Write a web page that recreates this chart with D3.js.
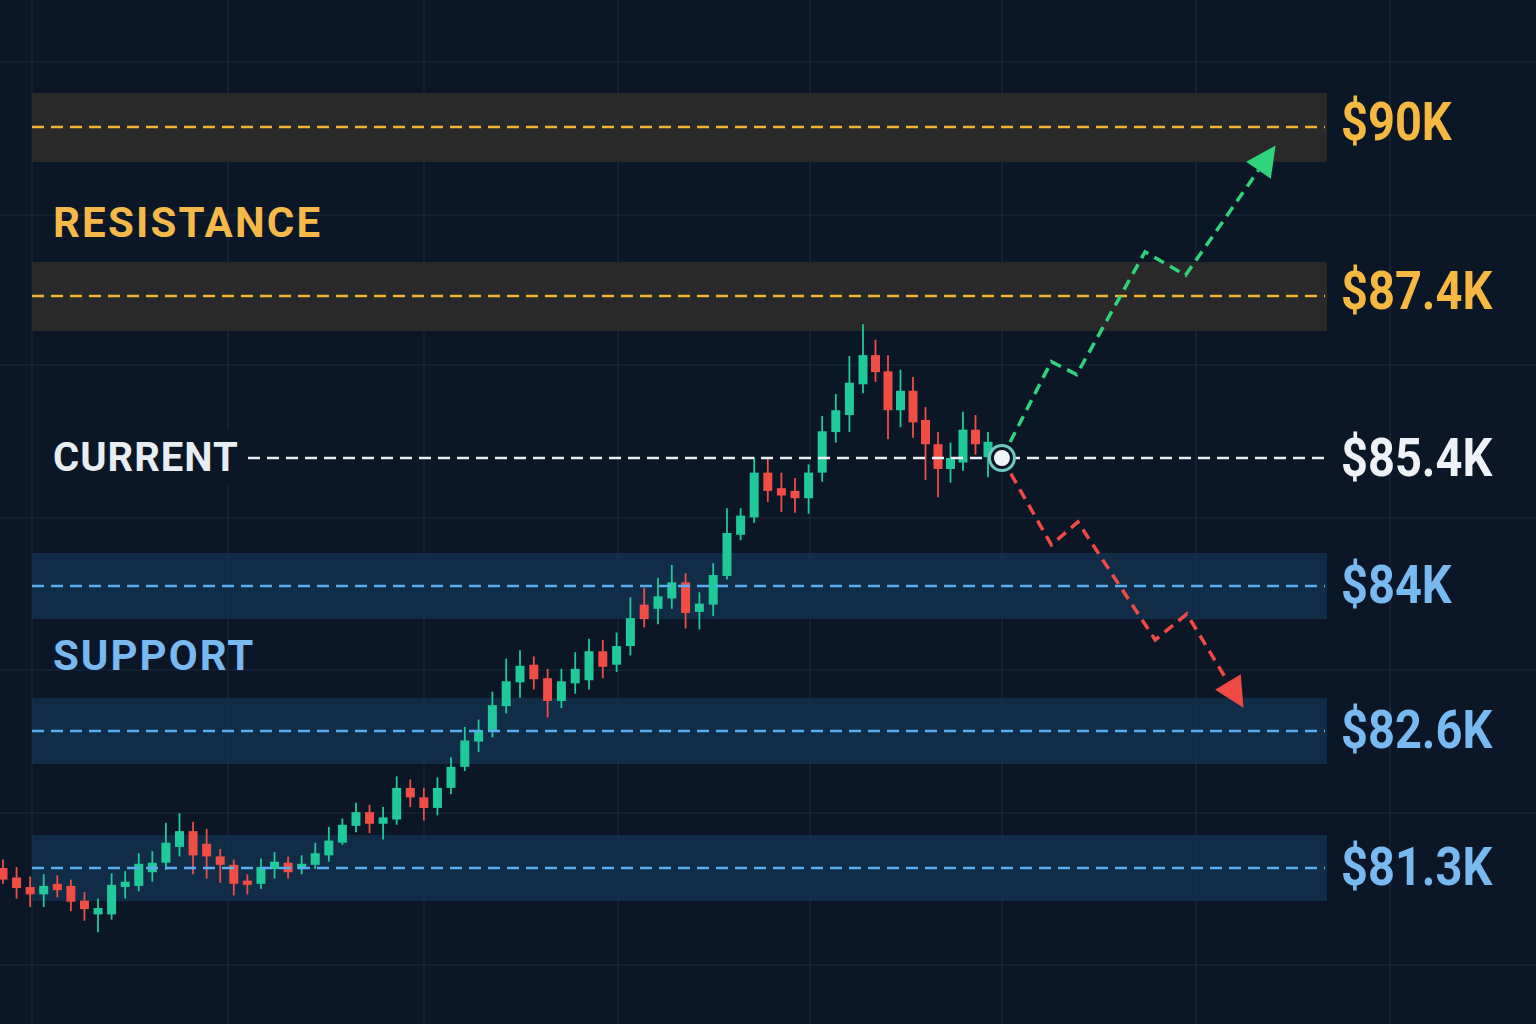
<!DOCTYPE html>
<html><head><meta charset="utf-8">
<script src="https://cdn.jsdelivr.net/npm/d3@7"></script>
<style>html,body{margin:0;padding:0;background:#0b1626;}svg{display:block}</style>
</head><body>
<svg id="c" width="1536" height="1024"></svg>
<script>
// candles: [open, close, high, low] in $K
const candles = [
[81.30,81.19,81.38,81.15],[81.21,81.11,81.31,81.01],[81.12,81.05,81.22,80.93],[81.05,81.13,81.24,80.93],
[81.15,81.09,81.23,81.02],[81.13,80.98,81.19,80.89],[80.99,80.91,81.07,80.80],[80.86,80.92,81.01,80.69],
[80.86,81.14,81.25,80.81],[81.12,81.17,81.27,81.01],[81.13,81.34,81.44,81.08],[81.26,81.35,81.46,81.17],
[81.35,81.54,81.73,81.28],[81.50,81.65,81.82,81.41],[81.65,81.42,81.74,81.24],[81.53,81.41,81.67,81.20],
[81.41,81.33,81.48,81.16],[81.33,81.15,81.38,81.04],[81.18,81.14,81.24,81.05],[81.15,81.31,81.39,81.10],
[81.29,81.36,81.45,81.20],[81.35,81.26,81.41,81.20],[81.29,81.34,81.42,81.24],[81.33,81.44,81.54,81.29],
[81.42,81.56,81.69,81.36],[81.54,81.71,81.77,81.52],[81.70,81.83,81.92,81.64],[81.83,81.72,81.90,81.63],
[81.72,81.78,81.88,81.57],[81.76,82.06,82.17,81.71],[82.06,81.97,82.14,81.88],[81.97,81.87,82.06,81.75],
[81.87,82.06,82.16,81.80],[82.06,82.26,82.35,82.00],[82.26,82.51,82.64,82.22],[82.50,82.61,82.71,82.40],
[82.60,82.85,82.98,82.54],[82.84,83.08,83.30,82.77],[83.07,83.23,83.38,82.92],[83.24,83.10,83.32,83.00],
[83.11,82.89,83.20,82.73],[82.89,83.08,83.20,82.82],[83.06,83.20,83.36,82.96],[83.09,83.37,83.49,83.00],
[83.37,83.22,83.48,83.11],[83.24,83.42,83.55,83.17],[83.42,83.69,83.89,83.33],[83.82,83.68,83.98,83.60],
[83.78,83.90,84.09,83.63],[83.88,84.04,84.23,83.78],[84.04,83.74,84.14,83.59],[83.75,83.83,83.94,83.58],
[83.82,84.12,84.25,83.71],[84.11,84.58,84.85,84.07],[84.56,84.77,84.85,84.50],[84.75,85.24,85.41,84.69],
[85.24,85.04,85.40,84.92],[85.07,84.99,85.24,84.81],[85.04,84.96,85.18,84.80],[84.96,85.24,85.33,84.79],
[85.24,85.73,85.92,85.14],[85.72,85.99,86.19,85.59],[85.93,86.33,86.66,85.72],[86.31,86.67,87.05,86.20],
[86.67,86.46,86.86,86.34],[86.47,85.99,86.67,85.63],[85.99,86.23,86.49,85.78],[86.23,85.84,86.40,85.65],
[85.87,85.57,86.03,85.16],[85.57,85.28,85.72,84.97],[85.28,85.40,85.59,85.13],[85.35,85.75,85.97,85.26],
[85.75,85.57,85.93,85.44],[85.41,85.60,85.72,85.19]
];
const resistanceLevels = [90, 87.4];
const resistanceLabels = ["$90K", "$87.4K"];
const supportLevels = [84, 82.6, 81.3];
const supportLabels = ["$84K", "$82.6K", "$81.3K"];
const currentLevel = 85.4;
const currentLabel = "$85.4K";
const markerIndex = 74.1;
const bullPath = [[74.1,85.4],[78,86.59],[80,86.43],[85.4,88.08],[88.6,87.72],[95.3,89.6]];
const bearPath = [[74.1,85.4],[78,84.45],[80.1,84.70],[86.2,83.48],[88.7,83.73],[92.8,82.9]];

const svg = d3.select("#c");
const W = 1536, H = 1024;
const x = d3.scaleLinear().domain([0,33,53,63,73,100]).range([3,451,727,863,988,1330]);
const y = d3.scaleLinear().domain([81.3,82.6,84,85.4,87.4,90]).range([868,731,586,458,296,127]);

svg.append("rect").attr("width",W).attr("height",H).attr("fill","#0b1626");
const grid = svg.append("g").attr("stroke","#1a2a3d").attr("stroke-width",1.2);
[32,228,424,618,810,1002,1196,1390].forEach(v=>grid.append("line").attr("x1",v).attr("x2",v).attr("y1",0).attr("y2",H));
[62,215,365,518,670,813,965].forEach(v=>grid.append("line").attr("y1",v).attr("y2",v).attr("x1",0).attr("x2",W));

const x0 = 32, x1 = 1327;
resistanceLevels.forEach(v=>svg.append("rect").attr("x",x0).attr("width",x1-x0)
  .attr("y",y(v)-34).attr("height",69).attr("fill","#2a2a28").attr("opacity",0.95));
supportLevels.forEach(v=>svg.append("rect").attr("x",x0).attr("width",x1-x0)
  .attr("y",y(v)-33).attr("height",66).attr("fill","#13304d").attr("opacity",0.85));

const cg = svg.append("g");
candles.forEach((d,i)=>{
  const up = d[1]>=d[0];
  const col = up ? "#1fc99a" : "#f04e44";
  cg.append("line").attr("x1",x(i)).attr("x2",x(i)).attr("y1",y(d[2])).attr("y2",y(d[3]))
    .attr("stroke",col).attr("stroke-width",1.8);
  const top = y(Math.max(d[0],d[1])), bot = y(Math.min(d[0],d[1]));
  cg.append("rect").attr("x",x(i)-4.5).attr("width",9).attr("y",top).attr("height",Math.max(2,bot-top)).attr("fill",col);
});

resistanceLevels.forEach(v=>svg.append("line").attr("x1",x0).attr("x2",1325).attr("y1",y(v)).attr("y2",y(v))
  .attr("stroke","#f2b233").attr("stroke-width",2.5).attr("stroke-dasharray","12,7"));
supportLevels.forEach(v=>svg.append("line").attr("x1",x0).attr("x2",1325).attr("y1",y(v)).attr("y2",y(v))
  .attr("stroke","#5aaef0").attr("stroke-width",2.5).attr("stroke-dasharray","12,7"));
svg.append("line").attr("x1",248).attr("x2",1325).attr("y1",y(currentLevel)).attr("y2",y(currentLevel))
  .attr("stroke","#e8eef4").attr("stroke-width",2.5).attr("stroke-dasharray","12,7");

const line = d3.line().x(d=>x(d[0])).y(d=>y(d[1]));
function arrow(pts,col){
  const n = pts.length, a = pts[n-2], b = pts[n-1];
  const ax=x(a[0]), ay=y(a[1]), bx=x(b[0]), by=y(b[1]);
  const ang = Math.atan2(by-ay,bx-ax);
  const L=30, hw=15;
  const tipx = bx+Math.cos(ang)*L*0.3, tipy = by+Math.sin(ang)*L*0.3;
  const basex = tipx-Math.cos(ang)*L, basey = tipy-Math.sin(ang)*L;
  const shaft = pts.slice(0,n-1).concat([[x.invert(basex), y.invert(basey)]]);
  svg.append("path").attr("d",line(shaft)).attr("fill","none").attr("stroke",col).attr("stroke-width",3.5).attr("stroke-dasharray","11,7");
  const px=-Math.sin(ang), py=Math.cos(ang);
  svg.append("path").attr("d",`M${tipx},${tipy}L${basex+px*hw},${basey+py*hw}L${basex-px*hw},${basey-py*hw}Z`).attr("fill",col);
}
arrow(bullPath,"#2fd37a");
arrow(bearPath,"#ef4b45");

svg.append("circle").attr("cx",x(markerIndex)).attr("cy",y(currentLevel)).attr("r",12.5).attr("fill","#0b1626").attr("stroke","#6cc9c2").attr("stroke-width",3);
svg.append("circle").attr("cx",x(markerIndex)).attr("cy",y(currentLevel)).attr("r",8).attr("fill","#eef4f8");

const font = "Roboto, 'Liberation Sans', sans-serif";
function lbl(t,xx,yy,col,size,ls){
  svg.append("text").attr("x",xx).attr("y",yy).attr("fill",col).attr("font-family",font)
    .attr("font-weight",700).attr("font-size",size).attr("letter-spacing",ls||0)
    .attr("dominant-baseline","central").text(t);
}
function rlbl(t,yy,col){
  svg.append("g").attr("transform",`translate(1341,${yy}) scale(0.87,1)`)
    .append("text").attr("x",0).attr("y",0).attr("fill",col).attr("font-family",font)
    .attr("font-weight",700).attr("font-size",54).attr("dominant-baseline","central").text(t);
}
resistanceLevels.forEach((v,i)=>rlbl(resistanceLabels[i],y(v)-6,"#f5b942"));
supportLevels.forEach((v,i)=>rlbl(supportLabels[i],y(v)-2,"#78b9ef"));
rlbl(currentLabel,y(currentLevel)-1,"#eef2f6");
svg.append("rect").attr("x",40).attr("y",430).attr("width",200).attr("height",56).attr("fill","#0b1626");
lbl("RESISTANCE",53,222,"#f5b94a",42,2.2);
lbl("CURRENT",53,457,"#e8edf2",40,1);
lbl("SUPPORT",53,655,"#78b9ef",42,2);
</script>
</body></html>
